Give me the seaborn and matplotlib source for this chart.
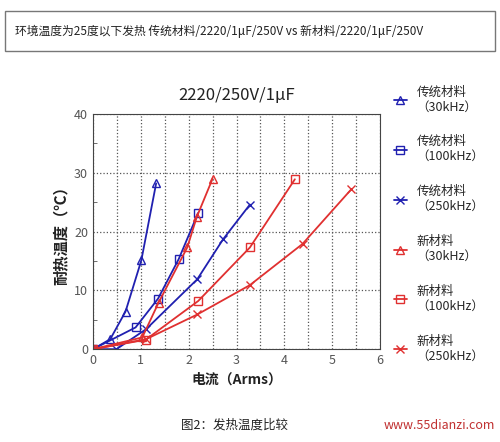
import matplotlib
matplotlib.use("Agg")
import matplotlib.pyplot as plt
import seaborn as sns
import pandas as pd
import numpy as np
from matplotlib.patches import Rectangle

sns.set_style("white")
plt.rcParams['font.family'] = ['Noto Sans CJK SC', 'DejaVu Sans']

labels = ["传统材料\n（30kHz）", "传统材料\n（100kHz）", "传统材料\n（250kHz）",
          "新材料\n（30kHz）", "新材料\n（100kHz）", "新材料\n（250kHz）"]
x_t30 = [0, 0.36, 0.68, 1.01, 1.32]
y_t30 = [0, 1.7, 6.4, 15.1, 28.2]
x_t100 = [0, 0.89, 1.36, 1.79, 2.2]
y_t100 = [0, 3.7, 8.6, 15.3, 23.2]
x_t250 = [0, 0.49, 1.11, 2.18, 2.72, 3.28]
y_t250 = [0, 0, 3.4, 11.9, 18.7, 24.6]
x_n30 = [0, 1.03, 1.37, 1.97, 2.17, 2.5]
y_n30 = [0, 2.0, 7.9, 17.3, 22.5, 29.0]
x_n100 = [0, 1.1, 2.2, 3.28, 4.22]
y_n100 = [0, 1.6, 8.2, 17.3, 28.9]
x_n250 = [0, 1.11, 2.18, 3.28, 4.38, 5.4]
y_n250 = [0, 1.7, 5.9, 10.9, 17.9, 27.2]

series = [(x_t30, y_t30, "#2020b0", "^"), (x_t100, y_t100, "#2020b0", "s"),
          (x_t250, y_t250, "#2020b0", "x"), (x_n30, y_n30, "#e03030", "^"),
          (x_n100, y_n100, "#e03030", "s"), (x_n250, y_n250, "#e03030", "x")]

fig = plt.figure(figsize=(5, 4.42), dpi=100)
ax = fig.add_axes([0.186, 0.21, 0.574, 0.532])
for (xs, ys, c, m), lab in zip(series, labels):
    df = pd.DataFrame({"x": xs, "y": ys})
    sns.lineplot(data=df, x="x", y="y", ax=ax, color=c, marker=m, markersize=6,
                 markerfacecolor="none", markeredgecolor=c, markeredgewidth=1,
                 linewidth=1.3, label=lab, sort=False)

ax.set_xlim(0, 6)
ax.set_ylim(0, 40)
ax.set_xticks(range(7))
ax.set_yticks([0, 10, 20, 30, 40])
ax.set_xticks(np.arange(0, 6.01, 0.5), minor=True)
ax.set_yticks([5, 15, 25, 35], minor=True)
ax.grid(True, which="major", color="#555555", linestyle=":", linewidth=0.9)
ax.grid(True, which="minor", axis="x", color="#555555", linestyle=":", linewidth=0.9)
ax.tick_params(axis="both", labelsize=9, colors="#555555", length=0, which="both")
ax.tick_params(axis="y", which="minor", length=3, direction="in", left=True)
for s in ax.spines.values():
    s.set_color("#444444")
ax.set_xlabel("电流（Arms）", fontsize=10, fontweight="bold", color="#222222")
ax.set_ylabel("耐热温度（℃）", fontsize=11, fontweight="bold", color="#222222")
ax.set_title("2220/250V/1μF", fontsize=12, pad=10, color="#222222")
ax.legend(loc="upper left", bbox_to_anchor=(1.01, 1.17), frameon=False,
          fontsize=9, labelspacing=1.75, handlelength=1.0, handletextpad=0.8)

fig.patches.append(Rectangle((0.01, 0.885), 0.98, 0.09, transform=fig.transFigure,
                             fill=False, edgecolor="#777777", linewidth=1))
fig.text(0.03, 0.93, "环境温度为25度以下发热 传统材料/2220/1μF/250V vs 新材料/2220/1μF/250V",
         fontsize=8.5, va="center", color="#222222")
fig.text(0.47, 0.03, "图2：发热温度比较", fontsize=9, ha="center", color="#222222")
fig.text(0.99, 0.03, "www.55dianzi.com", fontsize=9, ha="right", color="#c03030")
fig.savefig("out.png", dpi=100)
